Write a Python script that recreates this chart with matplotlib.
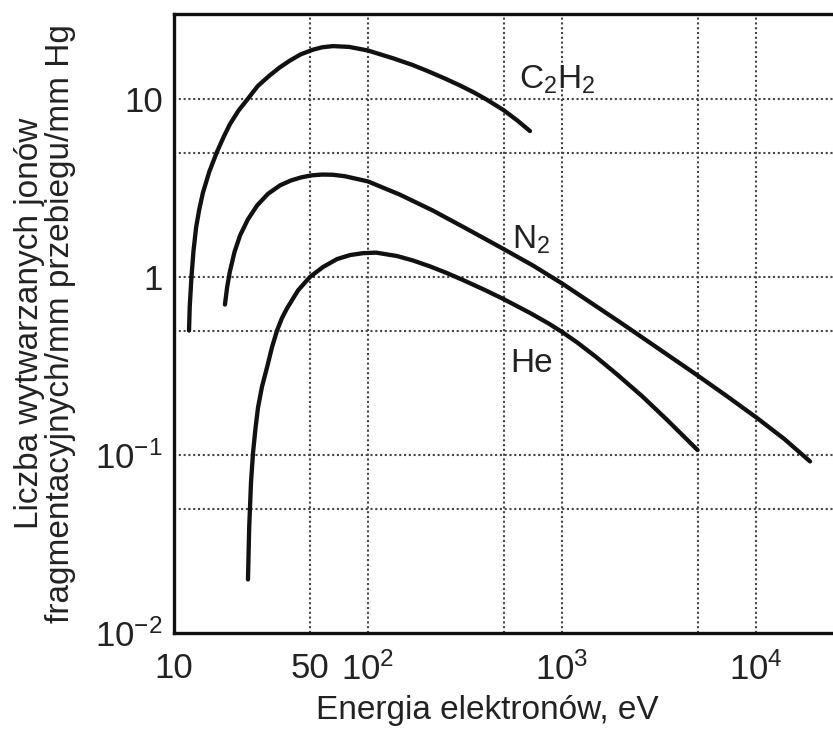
import matplotlib
matplotlib.use("Agg")
import matplotlib.pyplot as plt
from matplotlib.ticker import FixedLocator, NullLocator, NullFormatter

plt.rcParams['font.family'] = ['Liberation Sans', 'DejaVu Sans']
plt.rcParams['mathtext.fontset'] = 'custom'
plt.rcParams['mathtext.rm'] = 'Liberation Sans'
plt.rcParams['mathtext.it'] = 'Liberation Sans'
plt.rcParams['mathtext.bf'] = 'Liberation Sans'

# ---- data ----
c2h2_x = [11.95, 12.05, 12.3, 12.6, 13.0, 13.5, 14.1, 15.2, 16.6, 18.0, 19.4, 21.5, 24, 27, 31, 35,
          39.5, 45, 52, 58, 66, 80, 100, 135, 170, 201, 250, 298, 350, 410, 500, 590, 684]
c2h2_y = [0.5, 0.68, 1.0, 1.4, 1.9, 2.4, 2.98, 3.9, 5.0, 6.1, 7.2, 8.6, 10, 11.8, 13.5, 15.0,
          16.4, 17.8, 18.9, 19.5, 19.8, 19.6, 18.7, 16.9, 15.5, 14.4, 13.0, 11.9, 10.9, 9.9, 8.65, 7.55, 6.6]

n2_x = [18.3, 18.8, 19.4, 20.5, 21.9, 24, 26.8, 30.5, 35.2, 40, 45, 51, 58, 66, 76, 100, 146, 216,
        324, 497, 708, 1000, 1400, 2000, 3000, 4900, 7000, 10000, 14000, 19000]
n2_y = [0.70, 0.88, 1.07, 1.38, 1.71, 2.1, 2.52, 2.93, 3.27, 3.48, 3.62, 3.72, 3.76, 3.75, 3.68, 3.44,
        2.9, 2.36, 1.86, 1.44, 1.16, 0.92, 0.72, 0.555, 0.41, 0.284, 0.216, 0.163, 0.123, 0.092]

he_x = [24.06, 24.4, 24.94, 25.54, 26.3, 27.1, 28.4, 30.2, 32.0, 33.96, 36.0, 38.2, 43.6, 50.2,
        58.6, 69.2, 80.7, 94, 110, 141, 170, 209, 255, 309, 400, 500, 684, 850, 1000, 1200, 1500,
        1920, 2600, 3470, 5000]
he_y = [0.0200, 0.0387, 0.0703, 0.1026, 0.141, 0.1845, 0.2415, 0.312, 0.403, 0.5, 0.587, 0.665,
        0.841, 1.0, 1.137, 1.26, 1.327, 1.36, 1.37, 1.311, 1.239, 1.146, 1.052, 0.961, 0.845, 0.751,
        0.628, 0.549, 0.4915, 0.428, 0.355, 0.284, 0.213, 0.158, 0.1066]

series_labels = [r'C$_2$H$_2$', r'N$_2$', 'He']
label_pos = [(600, 11.4), (550, 1.44), (538, 0.293)]

xtick_vals = [10, 50, 100, 1000, 10000]
xtick_labels = ['10', '50', r'$10^2$', r'$10^3$', r'$10^4$']
ytick_vals = [0.01, 0.1, 1, 10]
ytick_labels = [r'$10^{-2}$', r'$10^{-1}$', '1', '10']
xgrid_vals = [50, 100, 500, 1000, 5000, 10000]
ygrid_vals = [0.05, 0.1, 0.5, 1, 5, 10]

xlabel = 'Energia elektronów, eV'
ylabel = 'Liczba wytwarzanych jonów\nfragmentacyjnych/mm przebiegu/mm Hg'

# ---- figure ----
fig = plt.figure(figsize=(8.33, 7.36), dpi=100)
ax = fig.add_axes([0.2089, 0.1399, 0.7911, 0.981 - 0.1399])
ax.set_xscale('log')
ax.set_yscale('log')
ax.set_xlim(10, 24950)
ax.set_ylim(0.01, 30)

gridkw = dict(color='#444444', linestyle=(0, (1, 1.3)), linewidth=1.5, zorder=1)
for gx in xgrid_vals:
    ax.axvline(gx, **gridkw)
for gy in ygrid_vals:
    ax.axhline(gy, **gridkw)

for xs, ys in [(c2h2_x, c2h2_y), (n2_x, n2_y), (he_x, he_y)]:
    ax.plot(xs, ys, color='#111111', linewidth=3.1, solid_capstyle='round',
            solid_joinstyle='round', zorder=3)

for lab, (lx, ly) in zip(series_labels, label_pos):
    ax.text(lx, ly, lab, fontsize=24, color='#222222', ha='left', va='baseline', zorder=4)

ax.xaxis.set_major_locator(FixedLocator(xtick_vals))
ax.set_xticklabels(xtick_labels)
ax.xaxis.set_minor_locator(NullLocator())
ax.xaxis.set_minor_formatter(NullFormatter())
ax.yaxis.set_major_locator(FixedLocator(ytick_vals))
ax.set_yticklabels(ytick_labels)
ax.yaxis.set_minor_locator(NullLocator())
ax.yaxis.set_minor_formatter(NullFormatter())

ax.tick_params(axis='x', length=0, pad=14, labelsize=25, colors='#222222')
ax.tick_params(axis='y', length=0, pad=8, labelsize=25, colors='#222222')

for side in ['left', 'bottom', 'top']:
    ax.spines[side].set_linewidth(2.4)
    ax.spines[side].set_color('#111111')
ax.spines['right'].set_visible(False)

ax.set_xlabel(xlabel, fontsize=24, color='#222222', labelpad=6)
ax.xaxis.label.set_x(0.475)
ax.set_ylabel(ylabel, fontsize=24, color='#222222', linespacing=1.0, labelpad=14)

fig.savefig('out.png', dpi=100)
